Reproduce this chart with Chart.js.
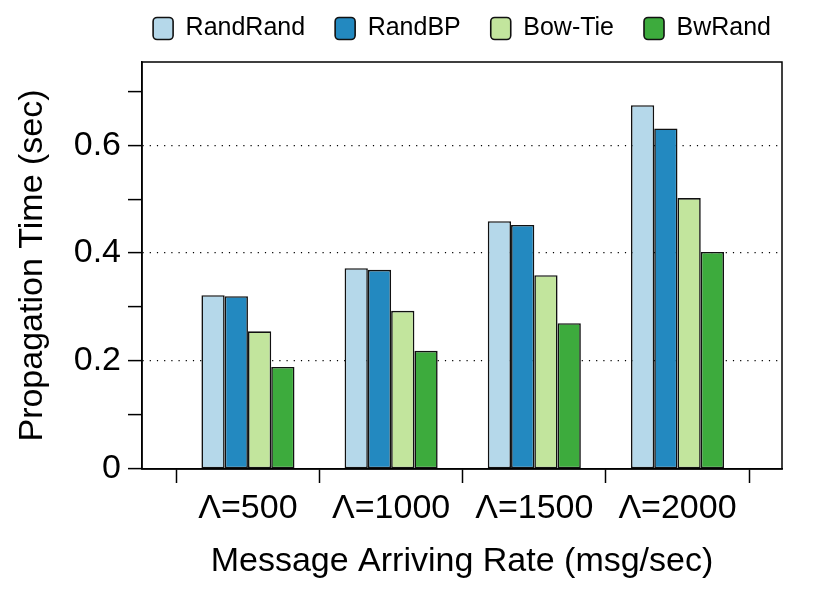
<!DOCTYPE html>
<html>
<head>
<meta charset="utf-8">
<script src="https://cdn.jsdelivr.net/npm/chart.js@4"></script>
<style>
  html, body { margin: 0; padding: 0; background: #fff; }
  #wrap { width: 830px; height: 593px; }
</style>
</head>
<body>
<div id="wrap"><canvas id="prop-chart"></canvas></div>
<script>
// categories and series
var categories = ['Λ=500', 'Λ=1000', 'Λ=1500', 'Λ=2000'];
var randRand = [0.322, 0.372, 0.459, 0.674];
var randBP = [0.320, 0.369, 0.452, 0.631];
var bowTie = [0.255, 0.293, 0.359, 0.502];
var bwRand = [0.189, 0.219, 0.270, 0.402];
var yTicks = [0, 0.1, 0.2, 0.3, 0.4, 0.5, 0.6, 0.7];
var yLabels = ['0', '', '0.2', '', '0.4', '', '0.6', ''];

var FONT = "'Liberation Sans', Arial, Helvetica, sans-serif";
var LAYOUT_TOP = -14;
var PLOT_TOP = 62;

function toPoints(values) {
    return values.map(function (v, i) { return { x: i, y: v }; });
}

function series(label, values, color) {
    return {
        label: label,
        data: toPoints(values),
        backgroundColor: color,
        borderColor: '#111',
        borderWidth: 1.6,
        borderSkipped: false,
        categoryPercentage: 0.65,
        barPercentage: 1.0,
    };
}

// box around the plot area + fixed legend height
var frame = {
    id: 'frame',
    beforeLayout: function (chart) {
        var lg = chart.legend;
        if (lg && !lg._fixed) {
            var fit = lg.fit;
            lg.fit = function () {
                fit.call(this);
                this.height = PLOT_TOP - LAYOUT_TOP;
            };
            lg._fixed = true;
        }
    },
    afterDatasetsDraw: function (chart) {
        var a = chart.chartArea;
        var ctx = chart.ctx;
        ctx.save();
        ctx.strokeStyle = '#000';
        ctx.lineWidth = 1.5;
        ctx.strokeRect(a.left, a.top, a.right - a.left, a.bottom - a.top);
        ctx.restore();
    },
};

new Chart(document.getElementById('prop-chart'), {
    type: 'bar',
    data: {
        datasets: [
            series('RandRand', randRand, '#b5d8ea'),
            series('RandBP', randBP, '#2389c0'),
            series('Bow-Tie', bowTie, '#c2e59d'),
            series('BwRand', bwRand, '#3dab3d'),
        ],
    },
    options: {
        responsive: true,
        maintainAspectRatio: false,
        animation: false,
        layout: { padding: { top: LAYOUT_TOP, right: 29, bottom: 0, left: 0 } },
        plugins: {
            legend: {
                position: 'top',
                align: 'end',
                labels: {
                    font: { family: FONT, size: 25 },
                    color: '#000',
                    boxWidth: 20,
                    boxHeight: 22,
                    padding: 30,
                    useBorderRadius: true,
                    borderRadius: 4,
                },
            },
            tooltip: { enabled: false },
        },
        scales: {
            x: {
                type: 'linear',
                min: -0.74,
                max: 3.73,
                offset: false,
                afterBuildTicks: function (scale) {
                    scale.ticks = categories.map(function (c, i) { return { value: i }; });
                },
                afterFit: function (scale) { scale.height = 124; },
                ticks: {
                    font: { family: FONT, size: 34 },
                    color: '#000',
                    padding: 5,
                    maxRotation: 0,
                    autoSkip: false,
                    callback: function (value) { return categories[value]; },
                },
                grid: {
                    offset: true,
                    drawOnChartArea: false,
                    drawTicks: true,
                    tickLength: 14,
                    tickColor: '#000',
                    tickWidth: 1.5,
                },
                border: { color: '#000', width: 1.5 },
                title: {
                    display: true,
                    text: 'Message Arriving Rate (msg/sec)',
                    font: { family: FONT, size: 34 },
                    color: '#000',
                    padding: { top: 0, bottom: 11 },
                },
            },
            y: {
                min: 0,
                max: 0.754,
                afterBuildTicks: function (scale) {
                    scale.ticks = yTicks.map(function (v) { return { value: v }; });
                },
                afterFit: function (scale) { scale.width = 142; },
                ticks: {
                    font: { family: FONT, size: 34 },
                    color: '#000',
                    padding: 7,
                    autoSkip: false,
                    callback: function (value, index) { return yLabels[index]; },
                },
                grid: {
                    color: function (ctx) {
                        if (!ctx.tick) return 'rgba(0,0,0,0)';
                        return yLabels[yTicks.indexOf(ctx.tick.value)] && ctx.tick.value > 0 ? '#000' : 'rgba(0,0,0,0)';
                    },
                    lineWidth: 1.2,
                    tickColor: '#000',
                    tickWidth: 1.5,
                    tickLength: 14,
                },
                border: { color: '#000', width: 1.5, dash: [1.2, 6] },
                title: {
                    display: true,
                    text: 'Propagation Time (sec)',
                    font: { family: FONT, size: 34 },
                    color: '#000',
                    padding: { top: 12, bottom: 0 },
                },
            },
            // empty right-hand axis, only to leave the margin right of the plot
            y2: {
                position: 'right',
                display: true,
                afterFit: function (scale) { scale.width = 19; },
                ticks: { display: false },
                grid: { display: false, drawTicks: false },
                border: { display: false },
            },
        },
    },
    plugins: [frame],
});
</script>
</body>
</html>
